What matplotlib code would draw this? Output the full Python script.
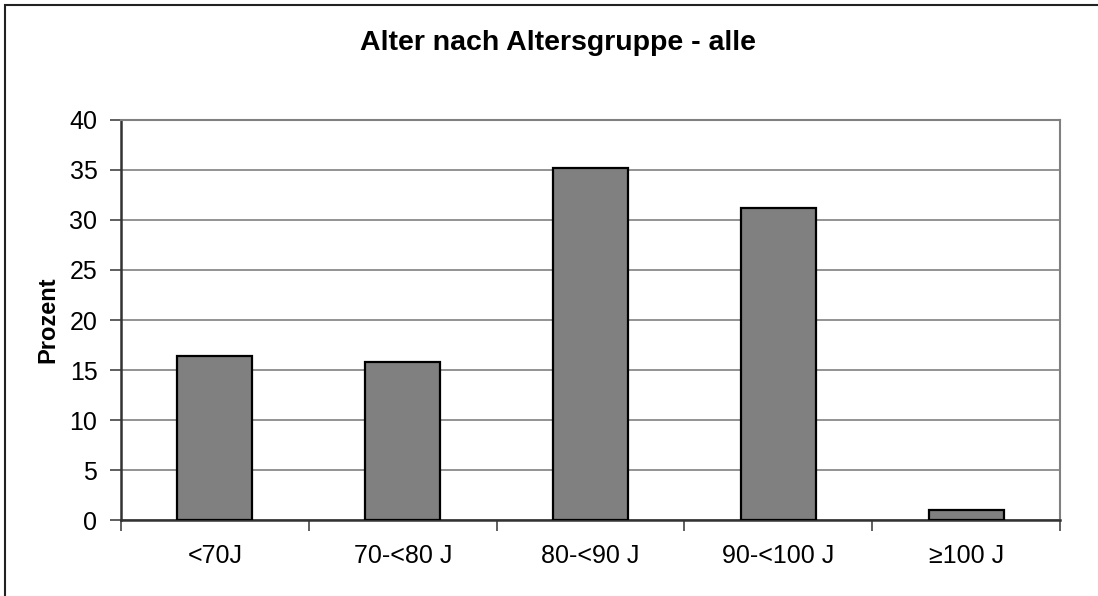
import matplotlib
matplotlib.use("Agg")
import matplotlib.pyplot as plt
from matplotlib.patches import Rectangle
import numpy as np

plt.rcParams['font.family'] = ['Liberation Sans', 'DejaVu Sans']

categories = ['<70J', '70-<80 J', '80-<90 J', '90-<100 J', '\u2265100 J']
prozent = [16.4, 15.8, 35.2, 31.2, 1.0]
y_ticks = [0, 5, 10, 15, 20, 25, 30, 35, 40]

W, H = 1098, 596
fig = plt.figure(figsize=(W / 100, H / 100), dpi=100)
fig.patch.set_facecolor('white')

# outer chart frame (runs past the right and bottom edges)
frame = Rectangle((5 / W, 0 - 10 / H), 1.2, (H - 5 + 10) / H, transform=fig.transFigure,
                  fill=False, edgecolor='#222222', linewidth=1.5, clip_on=False)
fig.patches.append(frame)

ax = fig.add_axes([121 / W, (H - 520) / H, (1060 - 121) / W, 400 / H])
x = np.arange(len(categories))
ax.bar(x, prozent, width=0.4, color='#808080', edgecolor='black', linewidth=1.6, zorder=3)

ax.set_xlim(-0.5, len(categories) - 0.5)
ax.set_ylim(0, 40)
ax.set_yticks(y_ticks)
ax.set_yticklabels([str(v) for v in y_ticks])
ax.yaxis.grid(True, color='#808080', linewidth=1.2, zorder=0)

ax.set_xticks(x)
ax.set_xticklabels(categories)
ax.set_xticks(np.arange(-0.5, len(categories), 1.0), minor=True)
ax.tick_params(axis='x', which='major', length=0, pad=17, labelsize=18)
ax.tick_params(axis='x', which='minor', length=8, width=1.2, color='#444444', direction='out')
ax.tick_params(axis='y', length=8, width=1.2, color='#444444', pad=9, labelsize=18)

for side in ('top', 'right'):
    ax.spines[side].set_color('#808080')
    ax.spines[side].set_linewidth(1.5)
ax.spines['left'].set_color('#333333')
ax.spines['left'].set_linewidth(1.8)
ax.spines['bottom'].set_color('#333333')
ax.spines['bottom'].set_linewidth(1.8)

ax.set_ylabel('Prozent', fontsize=17, fontweight='bold', labelpad=7)

fig.text(558 / W, 1 - 43 / H, 'Alter nach Altersgruppe - alle', ha='center', va='center',
         fontsize=20.5, fontweight='bold')

fig.savefig('out.png', dpi=100, facecolor='white')
